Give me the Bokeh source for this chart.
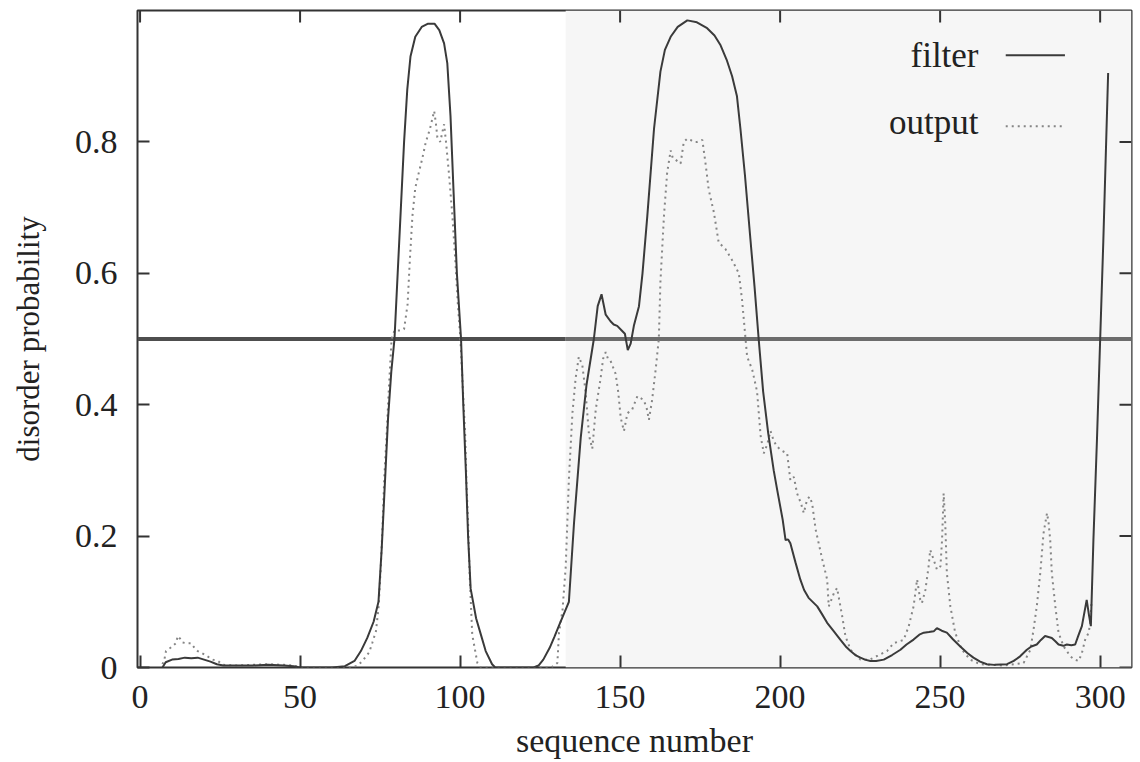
from bokeh.plotting import figure
from bokeh.models import FixedTicker, BoxAnnotation, Range1d
from bokeh.core.properties import value
from bokeh.embed import file_html
from bokeh.resources import INLINE

# ---------------- data ----------------
filter_x = [7, 8, 10, 12, 14, 16, 18, 20, 22, 24, 26, 30, 35, 40, 45, 48, 50, 60,
            64, 67, 69, 71, 73, 74.5, 75.5, 76.5, 77.5, 78.5, 79.5, 80.5, 81.5, 82.5,
            83.5, 84.5, 86, 88, 90, 92, 93.5, 95, 96, 97, 98, 99, 100.3, 101, 101.8,
            102.5, 103.3, 105, 106.5, 108, 110, 111, 123, 124.5, 126, 128, 129.5, 131,
            134, 135.6, 137.7, 139.5, 141.8, 143, 144.2, 145.5, 147, 148, 149.1, 150.5,
            151.5, 152.4, 153.3, 154.3, 155.9, 157, 158.5, 160.6, 162.6, 164, 165.8,
            168, 171, 174, 177.2, 179.5, 181.4, 183.3, 185, 186.5, 187.6, 189, 190.7,
            192, 193.3, 194.7, 196.3, 198, 199.1, 200.8, 201.7, 202.5, 203.2, 204.8,
            206.3, 207.5, 208.9, 211.6, 213, 214.7, 216.8, 218.8, 220.5, 222, 223.5,
            225.1, 226.5, 228.2, 230, 232.4, 235, 237.6, 239.5, 241.7, 243.5, 244.9,
            246.5, 248, 249, 250.5, 252.1, 254, 256.3, 258.5, 260.4, 262.5, 264.6,
            267, 270.9, 273, 275, 277.1, 278.5, 280.2, 281.5, 282.8, 284.9, 286, 287,
            288.5, 289.6, 291, 292.2, 293.3, 294.3, 295.8, 296.5, 297.1, 297.9, 299,
            300, 301, 302.5]
filter_y = [0.0, 0.008, 0.012, 0.013, 0.015, 0.014, 0.015, 0.012, 0.009, 0.005, 0.003,
            0.003, 0.003, 0.004, 0.003, 0.002, 0.0, 0.0,
            0.002, 0.01, 0.025, 0.045, 0.07, 0.10, 0.18, 0.28, 0.38, 0.45, 0.5, 0.6,
            0.7, 0.8, 0.88, 0.93, 0.96, 0.975, 0.98, 0.98, 0.97, 0.95, 0.92, 0.84,
            0.72, 0.6, 0.5, 0.4, 0.3, 0.2, 0.12, 0.075, 0.05, 0.025, 0.005, 0.0, 0.0,
            0.003, 0.012, 0.03, 0.047, 0.065, 0.1, 0.22, 0.35, 0.43, 0.5, 0.55, 0.568,
            0.537, 0.527, 0.522, 0.52, 0.513, 0.508, 0.483, 0.493, 0.52, 0.55, 0.6,
            0.687, 0.82, 0.907, 0.94, 0.96, 0.975, 0.985, 0.982, 0.973, 0.962, 0.947,
            0.925, 0.9, 0.87, 0.82, 0.75, 0.653, 0.58, 0.5, 0.42, 0.356, 0.3, 0.27,
            0.225, 0.194, 0.195, 0.189, 0.16, 0.134, 0.118, 0.106, 0.093, 0.082,
            0.068, 0.055, 0.0425, 0.032, 0.025, 0.019, 0.015, 0.012, 0.01, 0.01,
            0.012, 0.019, 0.027, 0.035, 0.0425, 0.05, 0.053, 0.054, 0.055, 0.06,
            0.056, 0.053, 0.043, 0.032, 0.022, 0.015, 0.009, 0.005, 0.004, 0.005,
            0.01, 0.017, 0.027, 0.032, 0.035, 0.042, 0.048, 0.045, 0.04, 0.035,
            0.033, 0.035, 0.034, 0.035, 0.05, 0.063, 0.103, 0.08, 0.063, 0.194,
            0.346, 0.498, 0.65, 0.905]

output_x = [7, 7.6, 8.1, 9.5, 11.2, 11.8, 12.5, 13.3, 14.5, 15.9, 17, 18, 20, 22.7,
            24.3, 26, 30, 35, 40, 45, 48, 50, 66, 68, 69.5, 71.6, 72.6, 73.7, 74.5,
            75.2, 75.8, 76.3, 77, 77.8, 78.6, 79.5, 81, 82.5, 83.6, 84.3, 85.1, 86,
            87.1, 88.2, 89.3, 90.6, 91.9, 92.4, 92.9, 93.8, 95, 95.6, 96.5, 97.6,
            98.5, 99.3, 100.1, 100.8, 101.6, 102, 102.5, 103, 103.8, 105.4, 106.5,
            128.5, 130.4, 130.9, 132, 133, 134, 135.1, 136.1, 137.1, 138.2, 139.2,
            140.3, 141.3, 142.4, 143.9, 144.7, 145.5, 146.2, 147, 148.6, 149.4, 150.2,
            151.2, 152.3, 153.8, 155.4, 157.4, 158.3, 159, 160, 161.1, 162.1, 162.6,
            163.7, 164.7, 165.8, 166.5, 167.3, 168.9, 169.9, 171, 172, 173, 174.1,
            175.7, 176.7, 177.7, 179.3, 180.8, 182.9, 185, 187.1, 188.1, 189.2,
            189.7, 191.3, 192.8, 193.9, 194.9, 196, 197, 198, 199.1, 200.5, 202.2,
            203.2, 204.3, 205.3, 206.5, 207.4, 208.4, 209.2, 210, 211.1, 213.2,
            214.7, 215.2, 216.8, 217.8, 219.4, 220.4, 222, 225.1, 228, 230.5, 233.4,
            235.5, 238.6, 240.2, 241.7, 242.8, 243.8, 244.3, 245.4, 246.4, 246.9,
            248, 249, 250.1, 250.6, 251.1, 251.6, 252.1, 253.2, 254.7, 256.8, 259.4,
            262.5, 270, 276.1, 278.2, 279.2, 280.2, 281.3, 282.3, 283.4, 283.9,
            284.4, 284.9, 286, 287, 288.6, 290.7, 292, 293.3, 294.3, 295.3, 296.4,
            296.9, 297.3]
output_y = [0.005, 0.012, 0.025, 0.03, 0.037, 0.048, 0.044, 0.038, 0.037, 0.037,
            0.03, 0.025, 0.02, 0.012, 0.01, 0.004, 0.003, 0.004, 0.005, 0.004, 0.003,
            0.0, 0.0, 0.003, 0.01, 0.023, 0.038, 0.055, 0.09, 0.15, 0.22, 0.287, 0.35,
            0.43, 0.5, 0.513, 0.513, 0.515, 0.553, 0.62, 0.687, 0.73, 0.753, 0.775,
            0.8, 0.82, 0.847, 0.83, 0.807, 0.8, 0.827, 0.8, 0.753, 0.687, 0.62,
            0.553, 0.5, 0.43, 0.353, 0.28, 0.22, 0.14, 0.05, 0.007, 0.0,
            0.0, 0.007, 0.053, 0.087, 0.153, 0.287, 0.387, 0.44, 0.473, 0.46, 0.42,
            0.353, 0.333, 0.393, 0.44, 0.47, 0.48, 0.47, 0.467, 0.447, 0.42, 0.38,
            0.36, 0.387, 0.393, 0.413, 0.407, 0.395, 0.377, 0.407, 0.453, 0.5, 0.587,
            0.687, 0.753, 0.787, 0.775, 0.773, 0.767, 0.8, 0.805, 0.803, 0.8, 0.8,
            0.803, 0.767, 0.727, 0.693, 0.647, 0.637, 0.62, 0.6, 0.56, 0.5,
            0.473, 0.453, 0.42, 0.353, 0.326, 0.34, 0.36, 0.345, 0.336, 0.33, 0.326,
            0.285, 0.29, 0.265, 0.25, 0.235, 0.255, 0.26, 0.25, 0.21, 0.164,
            0.134, 0.093, 0.113, 0.121, 0.078, 0.048, 0.027, 0.012, 0.012, 0.018,
            0.025, 0.037, 0.042, 0.063, 0.093, 0.134, 0.103, 0.098, 0.118, 0.154,
            0.179, 0.164, 0.149, 0.154, 0.194, 0.265, 0.22, 0.144, 0.093, 0.053,
            0.027, 0.012, 0.005, 0.003, 0.007, 0.027, 0.058, 0.093, 0.144, 0.204,
            0.235, 0.22, 0.194, 0.144, 0.093, 0.053, 0.032, 0.017, 0.012, 0.01,
            0.022, 0.042, 0.053, 0.068, 0.1]

x_ticks = [0, 50, 100, 150, 200, 250, 300]
y_ticks = [0, 0.2, 0.4, 0.6, 0.8]
threshold = 0.5
shade_start = 133
series_labels = ["filter", "output"]
x_title = "sequence number"
y_title = "disorder probability"

# ---------------- figure ----------------
X0, X1 = -0.8, 309.8
Y0, Y1 = 0.0, 1.0
FONT = "Liberation Serif"
TXT = "#222222"
TICK = "#333333"

p = figure(width=1140, height=762, output_backend="svg", toolbar_location=None,
           x_range=Range1d(X0, X1), y_range=Range1d(Y0, Y1),
           min_border_left=137, min_border_right=9, min_border_top=10,
           min_border_bottom=95)
p.background_fill_color = "white"
p.border_fill_color = "white"
p.outline_line_color = TICK
p.outline_line_width = 2
p.grid.visible = False

p.add_layout(BoxAnnotation(left=shade_start, fill_color="#f6f6f6", fill_alpha=1.0,
                           line_color=None, level="underlay"))

for ax in (p.xaxis[0], p.yaxis[0]):
    ax.axis_line_color = None
    ax.major_tick_in = 12
    ax.major_tick_out = 0
    ax.major_tick_line_color = TICK
    ax.major_tick_line_width = 2
    ax.minor_tick_line_color = None
    ax.major_label_text_font = FONT
    ax.major_label_text_font_size = "34px"
    ax.major_label_text_color = TXT
    ax.axis_label_text_font = FONT
    ax.axis_label_text_font_style = "normal"
    ax.axis_label_text_color = TXT

p.xaxis[0].ticker = FixedTicker(ticks=x_ticks)
p.yaxis[0].ticker = FixedTicker(ticks=y_ticks)
p.xaxis[0].major_label_standoff = 18
p.yaxis[0].major_label_standoff = 20
p.xaxis[0].axis_label = x_title
p.xaxis[0].axis_label_text_font_size = "34px"
p.xaxis[0].axis_label_standoff = 11
p.yaxis[0].axis_label = y_title
p.yaxis[0].axis_label_text_font_size = "31px"
p.yaxis[0].axis_label_standoff = 26

# mirrored inward ticks on the top and right frame edges
p.ray(x=x_ticks, y=[Y1] * len(x_ticks), length=12, length_units="screen",
      angle=-90, angle_units="deg", line_color=TICK, line_width=2)
p.ray(x=[X1] * len(y_ticks), y=y_ticks, length=12, length_units="screen",
      angle=180, angle_units="deg", line_color=TICK, line_width=2)

# threshold line (darker over white part, lighter over shaded part)
p.segment(x0=[X0], y0=[threshold], x1=[shade_start], y1=[threshold],
          line_color="#4e4e4e", line_width=4)
p.segment(x0=[shade_start], y0=[threshold], x1=[X1], y1=[threshold],
          line_color="#6c6c6c", line_width=4)

# series
p.line(output_x, output_y, line_color="#858585", line_width=2, line_dash="2 4")
p.line(filter_x, filter_y, line_color="#3a3a3a", line_width=2)

# key (label left of sample, as in the original)
p.text(x=[262, 262], y=[0.932, 0.83], text=series_labels, text_align="right",
       text_baseline="alphabetic", text_font=value(FONT), text_font_size="35px",
       text_color=TXT)
p.line([270.5, 289], [0.932, 0.932], line_color="#3a3a3a", line_width=2)
p.line([270.5, 288.5], [0.824, 0.824], line_color="#858585", line_width=2,
       line_dash="2 4")

open("out.html", "w").write(file_html(p, INLINE))
